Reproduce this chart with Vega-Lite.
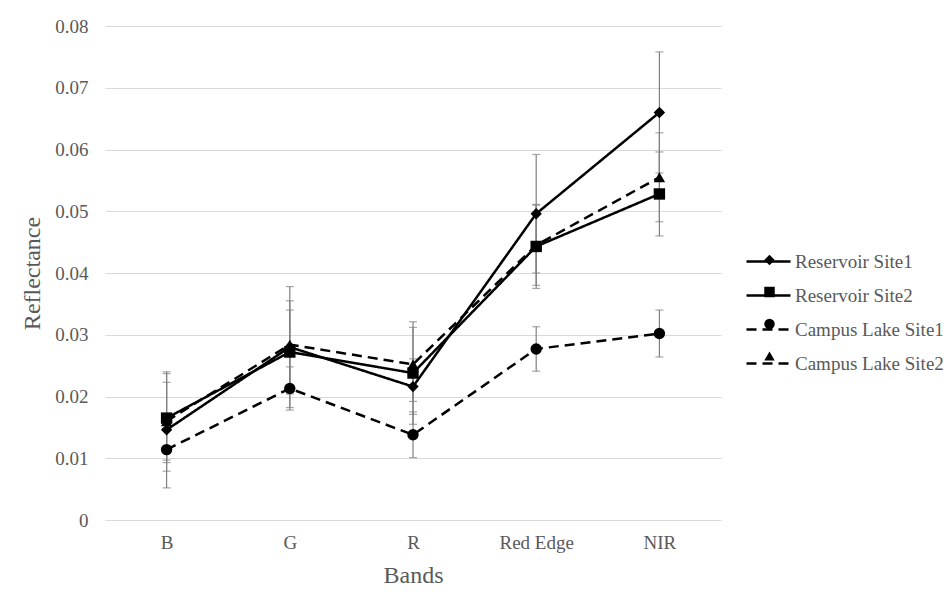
{
  "$schema": "https://vega.github.io/schema/vega-lite/v6.json",
  "width": 616,
  "height": 494,
  "autosize": {"type": "none"},
  "padding": {"left": 105, "top": 26, "right": 229, "bottom": 72},
  "background": "white",
  "config": {
    "font": "Liberation Serif, Times New Roman, DejaVu Serif, serif",
    "view": {"stroke": null},
    "axis": {"labelColor": "#595959", "titleColor": "#595959", "labelFontSize": 19, "titleFontSize": 24, "titleFontWeight": "normal", "labelFont": "Liberation Serif, Times New Roman, DejaVu Serif, serif", "titleFont": "Liberation Serif, Times New Roman, DejaVu Serif, serif"}
  },
  "data": {
    "values": [
      {"band": "B", "series": "Reservoir Site1", "value": 0.0146, "err": 0.0094},
      {"band": "B", "series": "Reservoir Site2", "value": 0.0165, "err": 0.0072},
      {"band": "B", "series": "Campus Lake Site1", "value": 0.0114, "err": 0.0035},
      {"band": "B", "series": "Campus Lake Site2", "value": 0.0160, "err": 0.0063},
      {"band": "G", "series": "Reservoir Site1", "value": 0.0280, "err": 0.0098},
      {"band": "G", "series": "Reservoir Site2", "value": 0.0272, "err": 0.0068},
      {"band": "G", "series": "Campus Lake Site1", "value": 0.0213, "err": 0.0035},
      {"band": "G", "series": "Campus Lake Site2", "value": 0.0284, "err": 0.0071},
      {"band": "R", "series": "Reservoir Site1", "value": 0.0216, "err": 0.0045},
      {"band": "R", "series": "Reservoir Site2", "value": 0.0238, "err": 0.0083},
      {"band": "R", "series": "Campus Lake Site1", "value": 0.0138, "err": 0.0037},
      {"band": "R", "series": "Campus Lake Site2", "value": 0.0252, "err": 0.0060},
      {"band": "Red Edge", "series": "Reservoir Site1", "value": 0.0496, "err": 0.0096},
      {"band": "Red Edge", "series": "Reservoir Site2", "value": 0.0443, "err": 0.0068},
      {"band": "Red Edge", "series": "Campus Lake Site1", "value": 0.0277, "err": 0.0036},
      {"band": "Red Edge", "series": "Campus Lake Site2", "value": 0.0445, "err": 0.0065},
      {"band": "NIR", "series": "Reservoir Site1", "value": 0.0660, "err": 0.0098},
      {"band": "NIR", "series": "Reservoir Site2", "value": 0.0528, "err": 0.0068},
      {"band": "NIR", "series": "Campus Lake Site1", "value": 0.0302, "err": 0.0038},
      {"band": "NIR", "series": "Campus Lake Site2", "value": 0.0555, "err": 0.0072}
    ]
  },
  "encoding": {
    "x": {
      "field": "band", "type": "nominal",
      "sort": ["B", "G", "R", "Red Edge", "NIR"],
      "scale": {"type": "point", "padding": 0.5},
      "axis": {"title": "Bands", "labelAngle": 0, "domain": false, "ticks": false, "tickSize": 0, "grid": false, "labelPadding": 13, "titlePadding": 11}
    }
  },
  "layer": [
    {
      "mark": {"type": "errorbar", "color": "#808080", "thickness": 1.2, "ticks": {"size": 8, "color": "#808080", "thickness": 1.2}},
      "encoding": {
        "y": {"field": "value", "type": "quantitative", "scale": {"domain": [0, 0.08], "nice": false}, "title": "Reflectance",
          "axis": {"values": [0, 0.01, 0.02, 0.03, 0.04, 0.05, 0.06, 0.07, 0.08], "labelExpr": "datum.value === 0 ? '0' : format(datum.value, '.2f')", "domain": false, "ticks": false, "tickSize": 0, "grid": true, "gridColor": "#d9d9d9", "labelPadding": 17, "titlePadding": 10}},
        "yError": {"field": "err"},
        "detail": {"field": "series"}
      }
    },
    {
      "mark": {"type": "line", "color": "black", "strokeWidth": 2.5},
      "encoding": {
        "y": {"field": "value", "type": "quantitative"},
        "strokeDash": {
          "field": "series", "type": "nominal",
          "sort": ["Reservoir Site1", "Reservoir Site2", "Campus Lake Site1", "Campus Lake Site2"],
          "scale": {"range": [[1, 0], [1, 0], [10, 6], [10, 6]]},
          "legend": {
            "title": null, "orient": "none", "legendX": 640, "legendY": 212, "padding": 0,
            "symbolType": "stroke", "symbolSize": 1936, "labelOffset": 3, "rowPadding": -14,
            "labelFontSize": 19, "labelColor": "#595959", "labelFont": "Liberation Serif, Times New Roman, DejaVu Serif, serif",
            "symbolStrokeWidth": 2.5, "symbolStrokeColor": "black"
          }
        }
      }
    },
    {
      "mark": {"type": "point", "filled": true, "color": "black", "size": 130, "opacity": 1},
      "encoding": {
        "y": {"field": "value", "type": "quantitative"},
        "shape": {
          "field": "series", "type": "nominal",
          "scale": {"domain": ["Reservoir Site1", "Reservoir Site2", "Campus Lake Site1", "Campus Lake Site2"], "range": ["diamond", "square", "circle", "triangle-up"]},
          "legend": {
            "title": null, "orient": "none", "legendX": 655, "legendY": 224.5, "padding": 0,
            "symbolSize": 110, "rowPadding": 12, "labelFontSize": 19, "labelExpr": "''",
            "symbolFillColor": "black", "symbolStrokeColor": "black", "symbolStrokeWidth": 0
          }
        }
      }
    }
  ]
}
